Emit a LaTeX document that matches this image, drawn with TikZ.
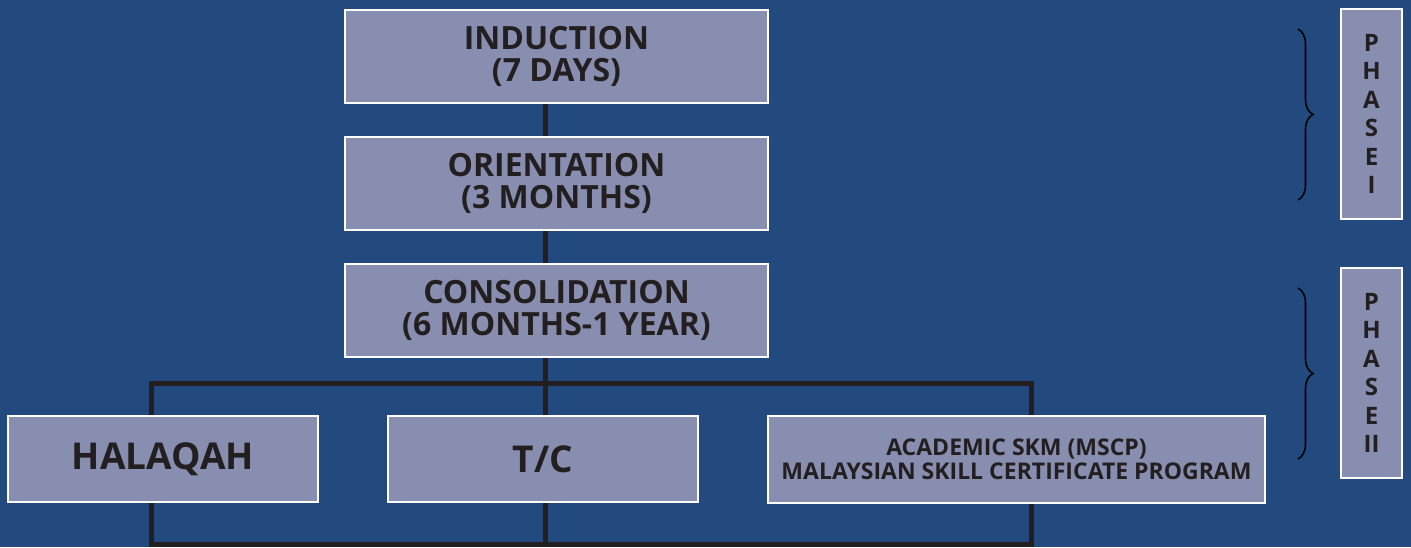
\documentclass[tikz,border=0pt]{standalone}
\usepackage{fontspec}
\setmainfont{Open Sans}
\usetikzlibrary{backgrounds,decorations.pathreplacing}

\definecolor{bgblue}{RGB}{34,74,126}
\definecolor{boxfill}{RGB}{136,142,176}
\definecolor{ink}{RGB}{35,31,32}

\tikzset{
  stagebox/.style={draw=white, line width=1.5pt, fill=boxfill, text=ink, align=center, inner sep=0pt,
    font=\bfseries\fontsize{32}{32}\selectfont},
  link/.style={draw=ink, line width=5pt},
  phasebrace/.style={draw=black, line width=1.6pt, decorate, decoration={brace, amplitude=15pt}},
}

\begin{document}
\begin{tikzpicture}[x=1pt,y=-1pt]

\useasboundingbox (0,0) rectangle (1411,547);

\node[stagebox, minimum width=423pt, minimum height=93pt] (induction) at (556.5,56.5) {INDUCTION\\(7 DAYS)};
\node[stagebox, minimum width=423pt, minimum height=93pt] (orientation) at (556.5,183.5) {ORIENTATION\\(3 MONTHS)};
\node[stagebox, minimum width=423pt, minimum height=93pt] (consolidation) at (556.5,310.5) {CONSOLIDATION\\(6 MONTHS-1 YEAR)};

\node[stagebox, minimum width=310pt, minimum height=86pt, font=\bfseries\fontsize{37}{40}\selectfont] (halaqah) at (163,459) {HALAQAH};
\node[stagebox, minimum width=310pt, minimum height=86pt, font=\bfseries\fontsize{37}{40}\selectfont] (tc) at (543,459) {T/C};
\node[stagebox, minimum width=497pt, minimum height=87pt, font=\bfseries\fontsize{23}{24}\selectfont] (academic) at (1016.5,459.5) {ACADEMIC SKM (MSCP)\\MALAYSIAN SKILL CERTIFICATE PROGRAM};

\node[stagebox, minimum width=61pt, minimum height=210pt, font=\bfseries\fontsize{24}{28.5}\selectfont] (phase1) at (1371.5,114) {P\\H\\A\\S\\E\\I};
\node[stagebox, minimum width=61pt, minimum height=210pt, font=\bfseries\fontsize{24}{28.5}\selectfont] (phase2) at (1371.5,373) {P\\H\\A\\S\\E\\II};

\coordinate (trunk) at (545,0);
\coordinate (split) at (545,383);
\coordinate (leftbar) at (151,383);
\coordinate (rightbar) at (1031,383);
\coordinate (bottom) at (545,544);

\begin{scope}[on background layer]
\fill[bgblue] (0,0) rectangle (1411,547);
\draw[link] (trunk |- induction.south) -- (trunk |- orientation.north);
\draw[link] (trunk |- orientation.south) -- (trunk |- consolidation.north);
\draw[link] (trunk |- consolidation.south) -- (split);
\draw[link] (leftbar) rectangle (rightbar |- bottom);
\draw[link] (split) -- (bottom);
\end{scope}

\draw[phasebrace] (1298,29) -- (1298,200);
\draw[phasebrace] (1298,288) -- (1298,459);

\end{tikzpicture}
\end{document}
